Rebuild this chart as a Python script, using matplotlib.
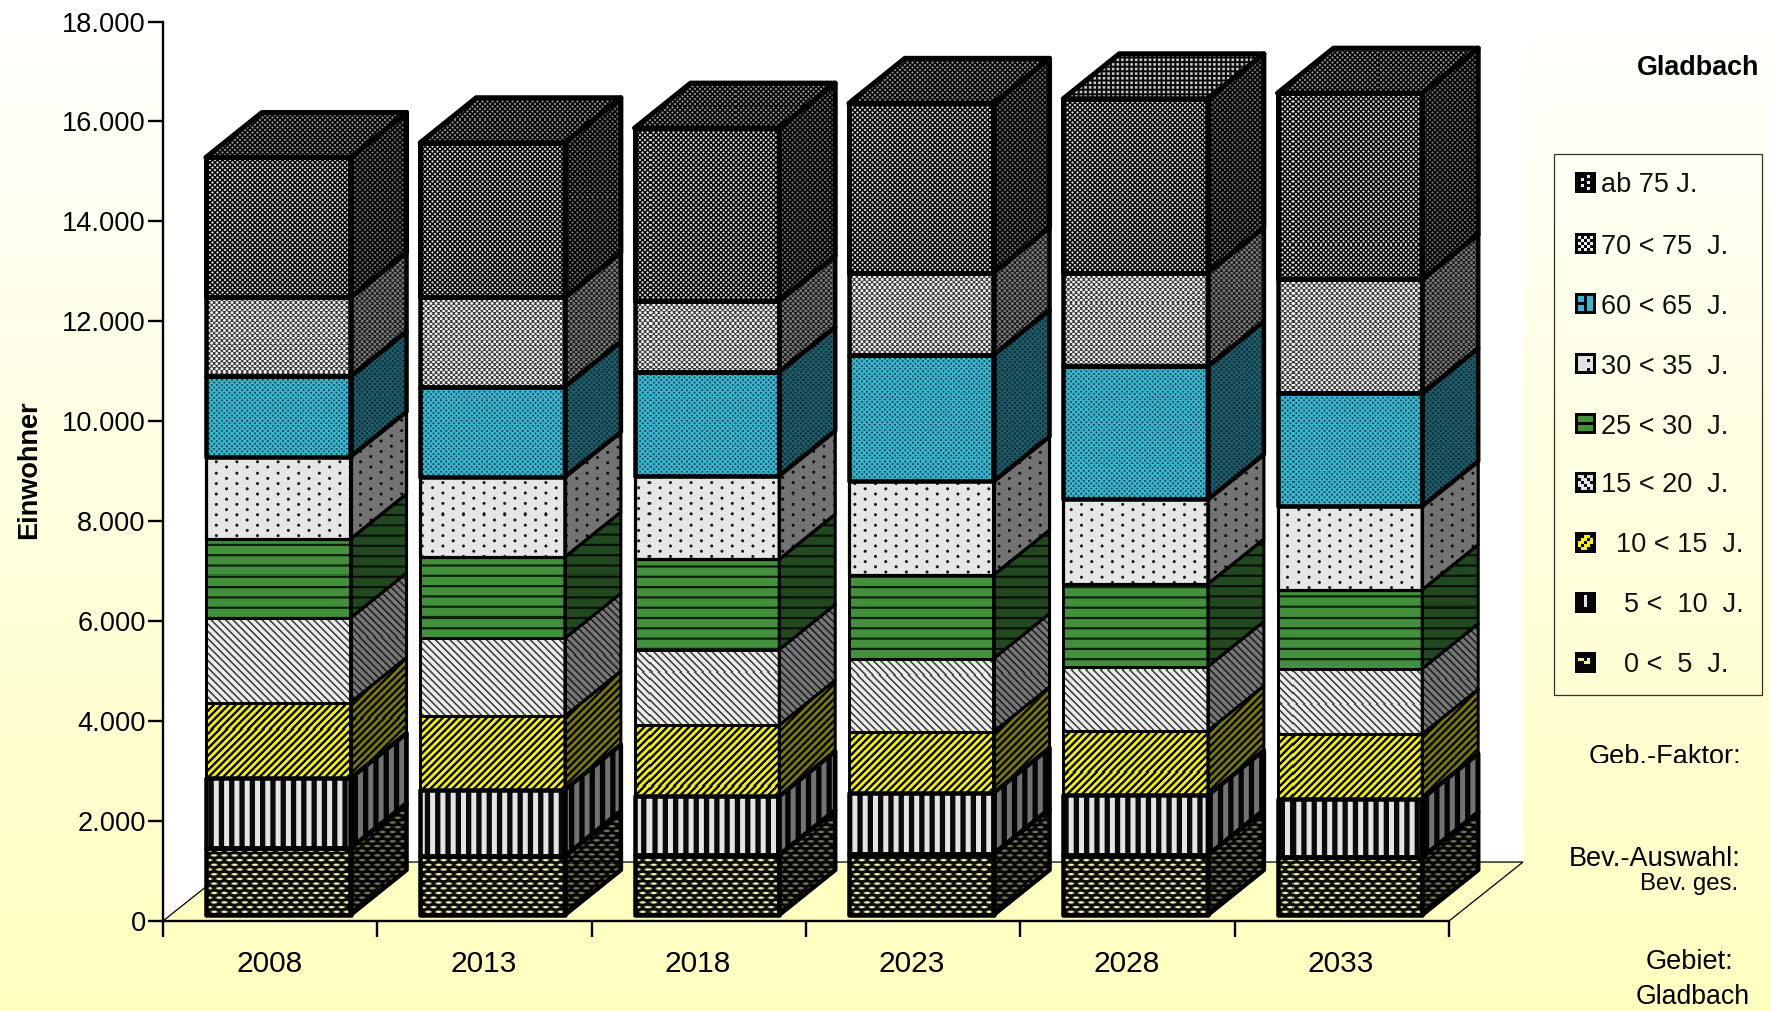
# Gladbach population forecast: 3D-look stacked columns by age band

import numpy as np
import matplotlib
matplotlib.use('Agg')
import matplotlib.pyplot as plt
from matplotlib.colors import to_rgb
from matplotlib.patches import Polygon, Rectangle
from matplotlib.transforms import Bbox, TransformedBbox

plt.rcParams['font.family'] = ['Liberation Sans', 'DejaVu Sans']

# Data
years = ['2008', '2013', '2018', '2023', '2028', '2033']
age_0_5 = [1333, 1175, 1197, 1220, 1197, 1152]
age_5_10 = [1401, 1333, 1175, 1220, 1197, 1175]
age_10_15 = [1514, 1468, 1423, 1220, 1288, 1288]
age_15_20 = [1694, 1559, 1514, 1468, 1288, 1310]
age_25_30 = [1581, 1626, 1807, 1672, 1649, 1581]
age_30_35 = [1648, 1604, 1672, 1875, 1694, 1672]
age_60_65 = [1604, 1807, 2078, 2529, 2666, 2259]
age_70_75 = [1581, 1785, 1423, 1649, 1874, 2281]
age_75_up = [2801, 3095, 3456, 3388, 3479, 3727]
yticks = [0, 2000, 4000, 6000, 8000, 10000, 12000, 14000, 16000, 18000]
ylabels = ['0', '2.000', '4.000', '6.000', '8.000', '10.000', '12.000',
           '14.000', '16.000', '18.000']
series = [age_0_5, age_5_10, age_10_15, age_15_20, age_25_30, age_30_35,
          age_60_65, age_70_75, age_75_up]
bands = ['brick', 'vert', 'up', 'down', 'horiz', 'sparse', 'teal', 'fine', 'dark']
edge_px = [4.5, 4.5, 3, 3, 3, 3.2, 4.5, 4.5, 5]

legend_labels = ['ab 75 J.', '70 < 75  J.', '60 < 65  J.', '30 < 35  J.',
                 '25 < 30  J.', '15 < 20  J.', '10 < 15  J.', '5 <  10  J.',
                 '0 <  5  J.']
legend_text_x = [1601, 1601, 1601, 1601, 1601, 1601, 1616, 1624, 1624]
legend_bands = bands[::-1]

W, H = 1771, 1011
BAR_LEFT, BAR_W = 0.2, 0.675
DEPTH_X, DEPTH_Y = 56 / 214.3, 45 / 0.05
WALL_X, WALL_Y = 74 / 214.3, 59 / 0.05
BASE = 122


def lerp(bg, fg, c):
    bg, fg = np.array(to_rgb(bg)), np.array(to_rgb(fg))
    return bg + (fg - bg) * c[..., None]


def dots(xx, yy, px, py, rx, ry=None):
    # staggered lattice of soft ellipses
    ry = rx if ry is None else ry
    row = np.floor(yy / py + 0.5)
    shift = 0.5 * (row % 2)
    du = ((xx / px - shift + 0.5) % 1 - 0.5) * px
    dv = yy - row * py
    d = np.hypot(du / rx, dv / ry)
    return np.clip((1 - d) * min(rx, ry) + 0.5, 0, 1)


def stripes(t, period, width):
    d = np.abs(((t / period + 0.5) % 1 - 0.5) * period)
    return np.clip(width / 2 - d + 0.5, 0, 1)


def texture(name, xx, yy):
    if name == 'dark':
        return lerp('#0a0a0a', '#e8e8e8', dots(xx, yy, 5.0, 2.5, 1.05))
    if name == 'fine':
        return lerp('#3c3c3c', '#f0f0f0', dots(xx, yy, 5.1, 2.55, 1.45))
    if name == 'teal':
        return lerp('#38b6d0', '#10404c', dots(xx, yy, 5.1, 2.55, 0.95))
    if name == 'sparse':
        return lerp('#e6e6e6', '#1a1a1a', dots(xx, yy, 20.6, 5.2, 1.5))
    if name == 'horiz':
        return lerp('#42903c', '#0c200a', stripes(yy, 10.3, 2.2))
    if name == 'down':
        return lerp('#ececec', '#484848', stripes(xx - yy, 7.3, 2.4))
    if name == 'up':
        return lerp('#f2f200', '#0a0a0a', stripes(xx + yy, 7.3, 3.4))
    if name == 'vert':
        return lerp('#0a0a0a', '#e4e4e4', stripes(xx, 10.3, 5.0))
    if name == 'brick':
        return lerp('#0c0c0c', '#eeeeb0', dots(xx, yy, 10.2, 4.7, 3.0, 1.2))
    if name == 'coarse':
        return lerp('#080808', '#c8c8c8', stripes(xx, 4.6, 2.6) * stripes(yy, 4.6, 2.6))
    raise ValueError(name)


def paint(verts, name, shade, clip, zorder):
    # fill a patch with a screen aligned pixel pattern
    disp = ax.transData.transform(verts)
    x0, x1 = int(np.floor(disp[:, 0].min())) - 1, int(np.ceil(disp[:, 0].max())) + 1
    y0, y1 = int(np.floor(disp[:, 1].min())) - 1, int(np.ceil(disp[:, 1].max())) + 1
    xx, yy = np.meshgrid(np.arange(x0, x1) + 0.5, H - (np.arange(y1, y0, -1) - 0.5))
    img = texture(name, xx, yy) * shade
    (l, b), (r, t) = ax.transData.inverted().transform([(x0, y0), (x1, y1)])
    im = ax.imshow(img, extent=(l, r, b, t), aspect='auto', interpolation='nearest',
                   origin='upper', zorder=zorder)
    im.set_clip_box(fig.bbox)
    im.set_clip_path(clip)


fig = plt.figure(figsize=(W / 100, H / 100), dpi=100)

# Background gradient
bg = fig.add_axes([0, 0, 1, 1], zorder=-1)
bg.imshow(np.linspace(0, 1, 256)[:, None, None] * np.array([0, 0, -63 / 255]) + 1,
          aspect='auto')
bg.axis('off')

# Main axes, pixel placement
ax = fig.add_axes([163 / W, (H - 921) / H, 1286 / W, 899.5 / H])
ax.patch.set_visible(False)
ax.set_xlim(0, 6)
ax.set_ylim(0, 18000)
ax.set_autoscale_on(False)

# Wall and floor
wall = Polygon([(0, 0), (WALL_X, WALL_Y), (6 + WALL_X, WALL_Y), (6 + WALL_X, 20000),
                (WALL_X, 20000), (0, 18000)], fc='white', ec='none', zorder=0,
               clip_on=False)
floor = Polygon([(0, 0), (WALL_X, WALL_Y), (6 + WALL_X, WALL_Y), (6, 0)],
                fc='#ffffc2', ec='black', lw=0.9, zorder=1, clip_on=False)
ax.add_patch(wall)
ax.add_patch(floor)

# Stacks
x = np.arange(len(years)) + BAR_LEFT
bottom = np.full(len(years), BASE, dtype=float)
for values, band, lw_px in zip(series, bands, edge_px):
    values = np.array(values, dtype=float)
    lw = lw_px * 0.72
    rects = ax.bar(x, values, BAR_W, bottom=bottom, align='edge', fill=False,
                   edgecolor='black', linewidth=lw, zorder=6, joinstyle='round')
    for i, rect in enumerate(rects):
        rect.set_clip_on(False)
        x0, x1 = x[i], x[i] + BAR_W
        y0, y1 = bottom[i], bottom[i] + values[i]
        paint([(x0, y0), (x1, y1)], band, 1.0, rect, 3)
        side_pts = [(x1, y0), (x1 + DEPTH_X, y0 + DEPTH_Y),
                    (x1 + DEPTH_X, y1 + DEPTH_Y), (x1, y1)]
        side = Polygon(side_pts, fill=False, ec='black', lw=lw, zorder=5,
                       joinstyle='round', clip_on=False)
        ax.add_patch(side)
        paint(side_pts, band, 0.5, side, 2)
        if band == 'dark':
            top_pts = [(x0, y1), (x1, y1), (x1 + DEPTH_X, y1 + DEPTH_Y),
                       (x0 + DEPTH_X, y1 + DEPTH_Y)]
            top = Polygon(top_pts, fill=False, ec='black', lw=lw, zorder=5,
                          joinstyle='round', clip_on=False)
            ax.add_patch(top)
            if years[i] == '2028':
                paint(top_pts, 'coarse', 1.0, top, 2)
            else:
                paint(top_pts, 'dark', 0.65, top, 2)
    bottom += values

# Axes
for s in ['top', 'right']:
    ax.spines[s].set_visible(False)
for s in ['left', 'bottom']:
    ax.spines[s].set_linewidth(1.7)
    ax.spines[s].set_zorder(7)
ax.set_yticks(yticks)
ax.set_yticklabels(ylabels, fontsize=19.6)
ax.tick_params(axis='y', length=11, width=1.7, pad=1.5)
ax.set_xticks(np.arange(7))
ax.set_xticklabels([])
ax.tick_params(axis='x', which='major', length=11.5, width=1.7)
ax.set_xticks(np.arange(len(years)) + 0.495, labels=years, minor=True, fontsize=21.5)
ax.tick_params(axis='x', which='minor', length=0, pad=21)

# Everything to the right, placed in picture pixels
over = fig.add_axes([0, 0, 1, 1], zorder=10)
over.patch.set_visible(False)
over.axis('off')
over.set_xlim(0, W)
over.set_ylim(H, 0)
over.set_autoscale_on(False)

over.add_patch(Rectangle((1554, 153.5), 208, 541, fill=False, ec='#303030', lw=0.9))

swatch_bits = {
    'dark': ['KKKKKKK', 'KKKKWKK', 'KKWKKKK', 'KKKKWKK', 'KKWKKKK', 'KKKKWKK', 'KKKKKKK'],
    'fine': ['KKKKKKK', 'KWKWKWK', 'KKWKWKK', 'KWKWKWK', 'KKWKWKK', 'KWKWKWK', 'KKKKKKK'],
    'teal': ['KKKKKKK', 'KTTKTTK', 'KTTKTTK', 'KKKKTTK', 'KTTKTTK', 'KTTKTTK', 'KKKKKKK'],
    'sparse': ['KKKKKKK', 'KGGGGGK', 'KGGGKGK', 'KGGGGGK', 'KGGGGGK', 'KGGGKGK', 'KKKKKKK'],
    'horiz': ['KKKKKKK', 'KVVVVVK', 'KVVVVVK', 'KKKKKKK', 'KVVVVVK', 'KVVVVVK', 'KKKKKKK'],
    'down': ['KKKKKKK', 'KGGKGGK', 'KKGGKGK', 'KGKGGKK', 'KGGKGGK', 'KKGGKGK', 'KKKKKKK'],
    'up': ['KKKKKKK', 'KKKYYKK', 'KKYYKYK', 'KYYKYYK', 'KYKYYKK', 'KKYYKKK', 'KKKKKKK'],
    'vert': ['KKKKKKK', 'KKKGKKK', 'KKKGKKK', 'KKKGKKK', 'KKKGKKK', 'KKKKKKK', 'KKKKKKK'],
    'brick': ['KKKKKKK', 'KKKKKKK', 'KPPKPKK', 'KKKPPKK', 'KKKKKKK', 'KKKKKKK', 'KKKKKKK'],
}
palette = {'K': '#050505', 'W': '#f0f0f0', 'T': '#38b6d0', 'G': '#e2e2e2',
           'V': '#42903c', 'Y': '#f4f400', 'P': '#f0f0a0'}
key_y = [183, 244, 304, 364, 424, 483, 543, 603, 663]
for band, label, tx, yc in zip(legend_bands, legend_labels, legend_text_x, key_y):
    bits = np.array([[to_rgb(palette[c]) for c in row] for row in swatch_bits[band]])
    over.imshow(bits, extent=(1575, 1596, yc + 10.5, yc - 10.5), aspect='auto',
                interpolation='nearest', zorder=2)
    over.text(tx, yc + 9.5, label, fontsize=19.5, ha='left', va='baseline', color='#111111')

over.text(1759, 75, 'Gladbach', fontsize=19.4, fontweight='bold', ha='right', va='baseline')
over.text(29, 470, 'Einwohner', fontsize=19.5, fontweight='bold', rotation=90,
          ha='center', va='center')

geb = over.text(1741, 764, 'Geb.-Faktor:', fontsize=19.5, ha='right', va='baseline')
geb.set_clip_box(TransformedBbox(Bbox([[1500, 700], [1771, 763]]), over.transData))
geb.set_clip_on(True)
over.text(1741, 866, 'Bev.-Auswahl:', fontsize=19.5, ha='right', va='baseline')
over.text(1738, 890, 'Bev. ges.', fontsize=17.3, ha='right', va='baseline')
over.text(1733, 969, 'Gebiet:', fontsize=19.5, ha='right', va='baseline')
over.text(1750, 1004, 'Gladbach', fontsize=19.2, ha='right', va='baseline')

fig.savefig('out.png', dpi=100)
